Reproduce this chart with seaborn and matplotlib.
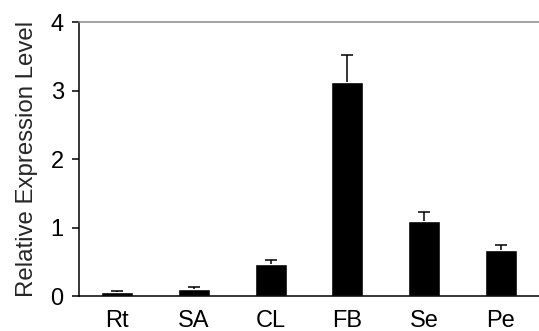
import matplotlib
matplotlib.use("Agg")
import matplotlib.pyplot as plt
import numpy as np
import pandas as pd
import seaborn as sns

tissues = ["Rt", "SA", "CL", "FB", "Se", "Pe"]
expression = [0.06, 0.10, 0.47, 3.13, 1.10, 0.67]
errors = [0.01, 0.03, 0.05, 0.39, 0.13, 0.08]

df = pd.DataFrame({"tissue": tissues, "level": expression})

sns.set_theme(style="ticks")
plt.rcParams["font.family"] = ["Liberation Sans", "DejaVu Sans"]

fig = plt.figure(figsize=(5.39, 3.31), dpi=100)
ax = fig.add_axes([0.1466, 0.1057, 0.8534, 0.8278])

sns.barplot(data=df, x="tissue", y="level", color="black", width=0.42,
            saturation=1, errorbar=None, ax=ax)
_, caps, _ = ax.errorbar(np.arange(len(tissues)), expression,
                         yerr=[np.zeros(len(errors)), errors],
                         fmt="none", ecolor="black", elinewidth=1.1,
                         capsize=4.5, capthick=1.1)
caps[0].set_visible(False)  # only the upper cap

ax.set_xlim(-0.5, 5.5)
ax.set_ylim(0, 4)
ax.set_yticks([0, 1, 2, 3, 4])
ax.set_xlabel("")
ax.set_ylabel("Relative Expression Level", fontsize=17.3, labelpad=9)

ax.spines["right"].set_visible(False)
ax.spines["top"].set_color("#8c8c8c")
ax.spines["top"].set_linewidth(1.1)
for side in ["left", "bottom"]:
    ax.spines[side].set_color("black")
    ax.spines[side].set_linewidth(1.1)

ax.tick_params(axis="x", length=0, pad=10, labelsize=17, colors="black")
ax.tick_params(axis="y", length=5, width=1.1, pad=6, labelsize=17, colors="black")

fig.savefig("out.png", dpi=100)
